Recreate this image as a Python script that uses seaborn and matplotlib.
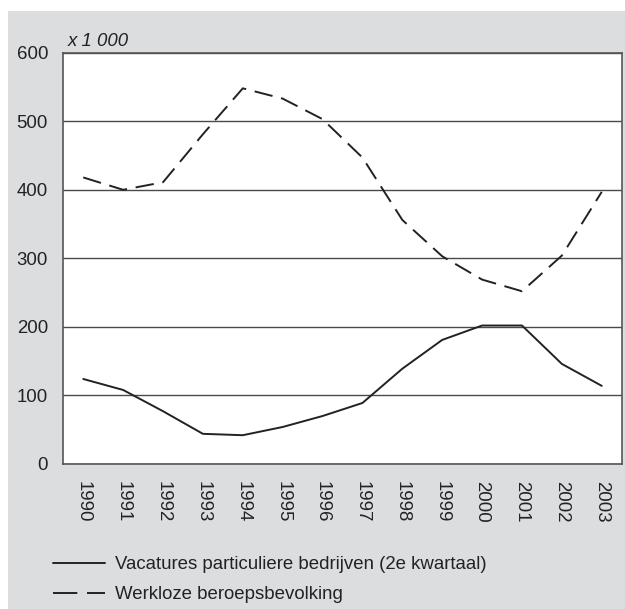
import matplotlib
matplotlib.use("Agg")
import matplotlib.pyplot as plt
import pandas as pd
import seaborn as sns
from matplotlib.patches import Rectangle

years = list(range(1990, 2004))
vacatures = [124, 108, 77, 44, 42, 54, 70, 89, 139, 181, 202, 202, 146, 114]
werkloos = [418, 400, 411, 481, 548, 533, 503, 447, 356, 303, 269, 252, 304, 397]
label_vac = "Vacatures particuliere bedrijven (2e kwartaal)"
label_wl = "Werkloze beroepsbevolking"

df = pd.concat([
    pd.DataFrame({"jaar": years, "aantal": vacatures, "reeks": label_vac}),
    pd.DataFrame({"jaar": years, "aantal": werkloos, "reeks": label_wl}),
])

sns.set_style("white")
plt.rcParams["font.family"] = ["Liberation Sans", "DejaVu Sans"]

grey_bg = "#dcdddf"
ink = "#222222"
fs = 13.4

fig = plt.figure(figsize=(6.25, 6.09), dpi=100, facecolor="white")
# grey panel behind everything
fig.patches.append(Rectangle((8 / 625, 0), 1, 1 - 11 / 609, transform=fig.transFigure,
                             facecolor=grey_bg, edgecolor="none", zorder=-10))

ax = fig.add_axes([0.1013, 0.2381, 0.8934, 0.6754])
ax.set_facecolor("white")

sns.lineplot(data=df, x="jaar", y="aantal", style="reeks", ax=ax, color=ink,
             linewidth=1.4, dashes={label_vac: "", label_wl: (9.5, 4.5)},
             legend=False, zorder=3)

ax.set_xlim(1989.5, 2003.5)
ax.set_ylim(0, 600)
ax.set_xticks(years)
ax.set_xticklabels([str(y) for y in years], rotation=270, fontsize=fs, color=ink)
ax.set_yticks(range(0, 700, 100))
ax.set_yticklabels([str(v) for v in range(0, 700, 100)], fontsize=fs, color=ink)
ax.tick_params(axis="x", direction="out", length=5, width=1, color="#666666", pad=7.5)
ax.tick_params(axis="y", length=0, pad=11)
ax.yaxis.grid(True, color="#4a4a4a", linewidth=1)
ax.set_axisbelow(True)
for s in ax.spines.values():
    s.set_color("#555555")
    s.set_linewidth(1.2)
ax.set_xlabel("")
ax.set_ylabel("")

fig.text(68 / 625, 1 - 41 / 609, "x 1 000", fontsize=fs, style="italic",
         color=ink, va="center", ha="left")

h1 = plt.Line2D([], [], color=ink, linewidth=1.4)
h2 = plt.Line2D([], [], color=ink, linewidth=1.4, dashes=(12.5, 5))
fig.legend([h1, h2], [label_vac, label_wl], loc="upper left",
           bbox_to_anchor=(53 / 625, 1 - 556 / 609), frameon=False, fontsize=fs,
           handlelength=2.8, handletextpad=0.54, labelspacing=0.7,
           borderpad=0, borderaxespad=0, labelcolor=ink)

fig.savefig("out.png", dpi=100, facecolor="white")
